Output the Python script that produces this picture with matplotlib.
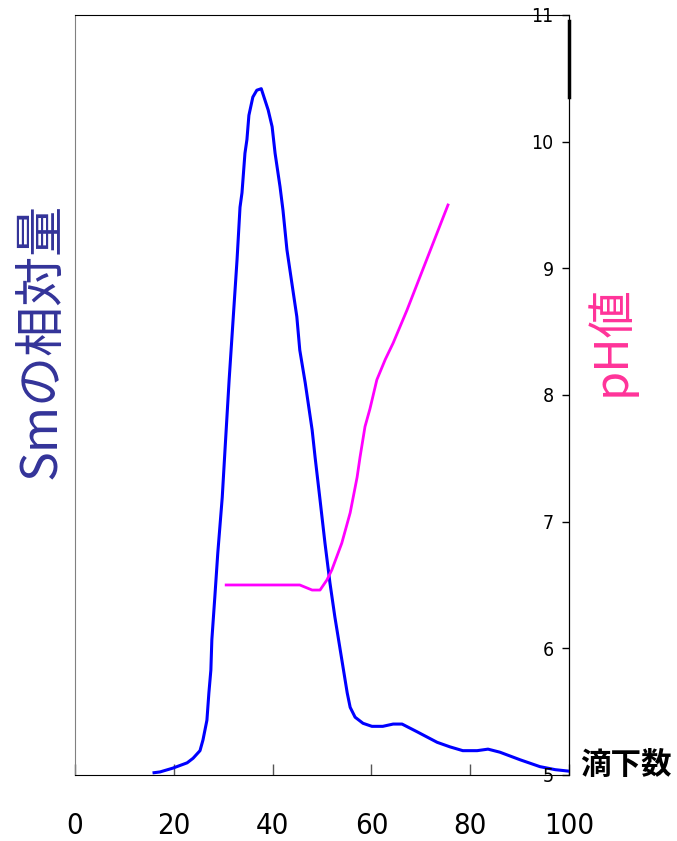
import matplotlib.pyplot as plt

# 滴下数 vs Sm relative amount (left axis, arbitrary units 0-100)
sm_drops = [16.0, 17.2, 19.8, 22.7, 23.9, 25.3, 25.9, 26.7, 27.1, 27.5, 27.7, 28.3,
            28.9, 29.8, 30.4, 31.2, 32.8, 33.4, 33.8, 34.4, 34.8, 35.2, 36.0, 36.8,
            37.7, 38.1, 39.1, 39.9, 40.5, 41.5, 42.1, 42.9, 44.9, 45.5, 46.6, 48.0,
            48.6, 49.6, 50.6, 51.6, 52.6, 53.6, 55.1, 55.7, 56.7, 58.3, 60.1, 62.3,
            64.4, 66.2, 69.2, 73.3, 75.9, 78.5, 81.4, 83.6, 86.0, 90.1, 94.1, 97.2, 100.0]
sm_amount = [0.3, 0.4, 0.9, 1.6, 2.2, 3.2, 4.6, 7.2, 10.8, 13.8, 17.8, 23.4,
             29.2, 36.5, 43.2, 52.0, 67.8, 74.7, 76.6, 81.8, 83.6, 86.8, 89.2, 90.1,
             90.3, 89.5, 87.5, 85.3, 81.8, 77.4, 74.3, 69.1, 60.3, 55.9, 51.6, 45.4,
             41.8, 36.2, 30.5, 25.3, 20.8, 16.8, 10.8, 8.9, 7.6, 6.8, 6.4, 6.4,
             6.7, 6.7, 5.7, 4.3, 3.7, 3.2, 3.2, 3.4, 3.0, 2.0, 1.1, 0.7, 0.5]

# 滴下数 vs pH (right axis)
ph_drops = [30.6, 45.5, 48.0, 49.6, 51.0, 52.0, 54.0, 55.7, 57.1, 57.7, 58.7,
            59.7, 61.1, 62.8, 64.4, 67.2, 70.4, 75.5]
ph_value = [6.50, 6.50, 6.46, 6.46, 6.54, 6.62, 6.83, 7.07, 7.35, 7.51, 7.75,
            7.89, 8.12, 8.28, 8.41, 8.67, 8.99, 9.50]

x_ticks = [0, 20, 40, 60, 80, 100]
ph_ticks = [5, 6, 7, 8, 9, 10, 11]

jp_font = ['Noto Sans CJK JP', 'DejaVu Sans']

fig = plt.figure(figsize=(6.77, 8.41), dpi=100)
ax = fig.add_axes([0.1108, 0.0785, 0.7297, 0.9037])
ax2 = ax.twinx()

ax.plot(sm_drops, sm_amount, color='#0000FF', lw=2.2, zorder=3)
ax2.plot(ph_drops, ph_value, color='#FF00FF', lw=2.0, zorder=3)

ax.set_xlim(0, 100)
ax.set_ylim(0, 100)
ax2.set_ylim(5, 11)

# x axis: inward ticks, labels well below the axis
ax.set_xticks(x_ticks)
ax.set_xticklabels([str(v) for v in x_ticks], family='DejaVu Sans',
                   fontstretch='condensed', fontsize=21)
ax.tick_params(axis='x', direction='in', length=8, width=1, color='#555555', pad=27)
ax.set_yticks([])

# pH axis: ticks and labels drawn inside the plot area
ax2.set_yticks(ph_ticks)
ax2.set_yticklabels([str(v) for v in ph_ticks], family='DejaVu Sans',
                    fontstretch='condensed', fontsize=14)
ax2.tick_params(axis='y', direction='in', length=5, width=1, pad=-11)
for lbl in ax2.get_yticklabels():
    lbl.set_horizontalalignment('right')

for sp in ax.spines.values():
    sp.set_color('black')
ax.spines['left'].set_color('#808080')
ax2.spines['left'].set_visible(False)
ax2.spines['top'].set_visible(False)
ax2.spines['bottom'].set_visible(False)

# heavier stretch of the pH spine near the top
ax2.plot([100, 100], [10.35, 10.95], color='black', lw=2.5, clip_on=False, zorder=4)

ax.set_ylabel('Smの相対量', family=jp_font, fontsize=36, color='#333399',
              ha='center', va='center')
ax.yaxis.set_label_coords(-0.067, 0.571)
ax2.set_ylabel('pH値', family=jp_font, fontsize=34, color='#FF3399',
               rotation=90, ha='center', va='center')
ax2.yaxis.set_label_coords(1.084, 0.571)

fig.text(580 / 677, 1 - 765 / 841, '滴下数', family=jp_font, fontsize=22,
         fontweight='bold', ha='left', va='center')

fig.savefig('out.png', dpi=100)
